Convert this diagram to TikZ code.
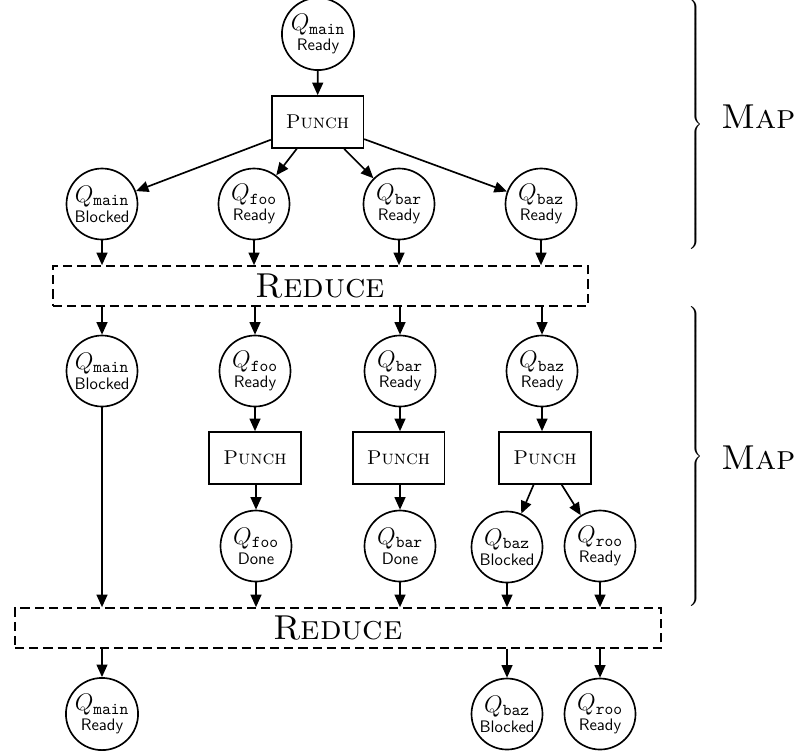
\documentclass[tikz,border=0pt]{standalone}
\usetikzlibrary{arrows.meta}
\newcommand\qlab[2]{{\Large$Q_{\mathtt{#1}}$}\\\textsf{#2}}
\tikzset{
  qnode/.style={circle, draw, line width=1pt, minimum size=42.6pt, inner sep=1pt, align=center, font=\normalsize},
  punchbox/.style={draw, line width=1pt, minimum width=55pt, minimum height=31.2pt, inner sep=2pt, font=\large\scshape},
  reducebox/.style={draw, line width=1pt, dash pattern=on 5.5pt off 3pt, minimum height=24pt, inner sep=0pt, font=\huge\scshape},
  arr/.style={-{Triangle[length=7.5pt,width=6.5pt]}, line width=1pt},
  maplabel/.style={font=\huge\scshape, inner sep=0pt},
  bracenode/.style={inner sep=0pt, font=\normalsize},
}
\begin{document}
\begin{tikzpicture}[x=0.6pt, y=-0.6pt]
\useasboundingbox (0,0) rectangle (812,753);
% top map
\node[qnode] (q0) at (318,34) {\qlab{main}{Ready}};
\node[punchbox] (p0) at (317.5,122) {Punch};
\node[qnode] (a1) at (102,204) {\qlab{main}{Blocked}};
\node[qnode] (a2) at (254,204) {\qlab{foo}{Ready}};
\node[qnode] (a3) at (399,204) {\qlab{bar}{Ready}};
\node[qnode] (a4) at (541,204) {\qlab{baz}{Ready}};
\node[reducebox, minimum width=321pt] (r1) at (320.5,286) {Reduce};
% second map
\node[qnode] (b1) at (102,371) {\qlab{main}{Blocked}};
\node[qnode] (b2) at (255,371) {\qlab{foo}{Ready}};
\node[qnode] (b3) at (400,371) {\qlab{bar}{Ready}};
\node[qnode] (b4) at (542,371) {\qlab{baz}{Ready}};
\node[punchbox] (p2) at (255,458) {Punch};
\node[punchbox] (p3) at (398.5,458) {Punch};
\node[punchbox] (p4) at (545,458) {Punch};
\node[qnode] (c2) at (256,546) {\qlab{foo}{Done}};
\node[qnode] (c3) at (400,546) {\qlab{bar}{Done}};
\node[qnode] (c4) at (507,547) {\qlab{baz}{Blocked}};
\node[qnode] (c5) at (600,546) {\qlab{roo}{Ready}};
\node[reducebox, minimum width=387.6pt] (r2) at (338,628) {Reduce};
\node[qnode] (d1) at (102,714) {\qlab{main}{Ready}};
\node[qnode] (d4) at (507,714) {\qlab{baz}{Blocked}};
\node[qnode] (d5) at (600,714) {\qlab{roo}{Ready}};
% braces and labels
\node[bracenode] (br1) at (695,125) {$\left.\vrule height 73pt depth 73pt width 0pt\right\}$};
\node[bracenode] (br2) at (695,456.5) {$\left.\vrule height 88pt depth 88pt width 0pt\right\}$};
\node[maplabel] (m1) at (758.5,116.5) {Map};
\node[maplabel] (m2) at (758.5,458) {Map};
% connectors
\draw[arr] (q0) -- (p0);
\foreach \n in {a1,a2,a3,a4} \draw[arr] (p0) -- (\n);
\foreach \n in {a1,a2,a3,a4} \draw[arr] (\n) -- (\n |- r1.north);
\foreach \n in {b1,b2,b3,b4} \draw[arr] (\n |- r1.south) -- (\n);
\draw[arr] (b2) -- (b2 |- p2.north);
\draw[arr] (b3) -- (b3 |- p3.north);
\draw[arr] (b4) -- (b4 |- p4.north);
\draw[arr] (c2 |- p2.south) -- (c2);
\draw[arr] (c3 |- p3.south) -- (c3);
\draw[arr] (p4) -- (c4);
\draw[arr] (p4) -- (c5);
\foreach \n in {b1,c2,c3,c4,c5} \draw[arr] (\n) -- (\n |- r2.north);
\foreach \n in {d1,d4,d5} \draw[arr] (\n |- r2.south) -- (\n);
\end{tikzpicture}
\end{document}
